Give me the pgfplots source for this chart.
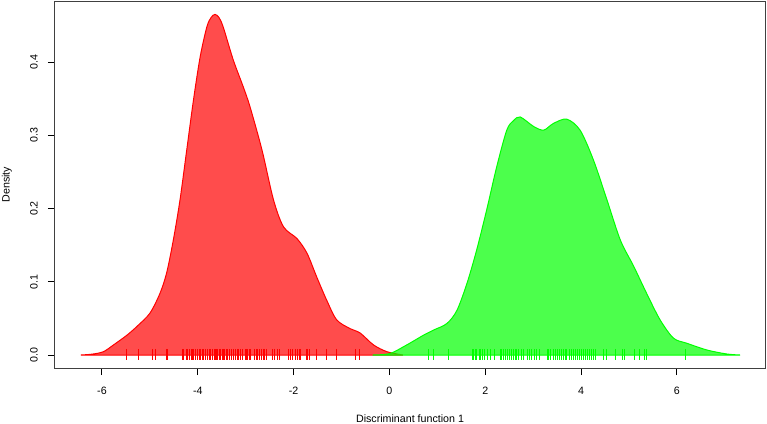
\documentclass[border=0pt]{standalone}
\usepackage{pgfplots}
\pgfplotsset{compat=1.18}
\usepackage{fontspec}
\setmainfont{Liberation Sans}
\definecolor{rfill}{RGB}{255,0,0}
\definecolor{gfill}{RGB}{0,255,0}
\begin{document}
\begin{tikzpicture}[font=\fontsize{8}{9.6}\selectfont]
\begin{axis}[name=ax, scale only axis, width=532.5pt, height=275.25pt,
  xmin=-6.98, xmax=7.84, ymin=-0.01775, ymax=0.4833,
  axis line style={black!75, line width=0.75pt},
  tick pos=left, tick align=outside, major tick length=5.25pt,
  tick style={black, line width=0.75pt},
  xtick={-6,-4,-2,0,2,4,6}, xticklabels={-6,-4,-2,0,2,4,6},
  ytick={0,0.1,0.2,0.3,0.4}, yticklabels={0.0,0.1,0.2,0.3,0.4},
  xticklabel style={anchor=base, yshift=-14.45pt},
  yticklabel style={xshift=-7.75pt, rotate=90, anchor=base},
]
% red density
\addplot[smooth, tension=0.5, draw=red, line width=0.75pt, fill=rfill, fill opacity=0.7, draw opacity=1] coordinates {
(-6.44,0) (-6.2,0.0012) (-5.97,0.0045) (-5.76,0.0137) (-5.48,0.027) (-5.27,0.039) (-5.0,0.057)
(-4.79,0.084) (-4.65,0.112) (-4.51,0.157) (-4.37,0.212) (-4.23,0.280) (-4.09,0.348)
(-3.95,0.407) (-3.81,0.448) (-3.72,0.461) (-3.64,0.465) (-3.56,0.461) (-3.47,0.448) (-3.26,0.403)
(-3.05,0.366) (-2.91,0.339) (-2.66,0.280) (-2.42,0.212) (-2.21,0.175) (-1.93,0.159)
(-1.72,0.139) (-1.52,0.107) (-1.31,0.075) (-1.10,0.048) (-0.82,0.036) (-0.61,0.030)
(-0.33,0.0137) (-0.05,0.0045) (0.28,0)
} \closedcycle;
% green density
\addplot[smooth, tension=0.5, draw=green, line width=0.75pt, fill=gfill, fill opacity=0.7, draw opacity=1] coordinates {
(-0.35,0) (0.01,0.002) (0.36,0.0137) (0.71,0.027) (0.92,0.034) (1.20,0.043) (1.41,0.061)
(1.62,0.098) (1.82,0.143) (2.03,0.198) (2.24,0.257) (2.45,0.307) (2.59,0.320) (2.73,0.325)
(3.01,0.312) (3.22,0.307) (3.42,0.316) (3.70,0.322) (3.98,0.307) (4.26,0.266) (4.54,0.212)
(4.82,0.157) (5.10,0.121) (5.37,0.084) (5.65,0.048) (5.93,0.023) (6.21,0.016) (6.63,0.0068)
(7.04,0.0014) (7.32,0)
} \closedcycle;
% red rug
\addplot[only marks, mark=|, mark size=4.125pt, red, mark options={line width=0.75pt}] coordinates {
(-5.48,0.0007) (-5.24,0.0007) (-4.94,0.0007) (-4.88,0.0007) (-4.65,0.0007) (-4.63,0.0007)
(-4.31,0.0007) (-4.29,0.0007) (-4.24,0.0007) (-4.22,0.0007) (-4.18,0.0007) (-4.13,0.0007)
(-4.10,0.0007) (-4.08,0.0007) (-4.04,0.0007) (-4.01,0.0007) (-3.97,0.0007) (-3.94,0.0007)
(-3.90,0.0007) (-3.87,0.0007) (-3.83,0.0007) (-3.80,0.0007) (-3.76,0.0007) (-3.73,0.0007)
(-3.69,0.0007) (-3.66,0.0007) (-3.63,0.0007) (-3.60,0.0007) (-3.58,0.0007) (-3.55,0.0007)
(-3.52,0.0007) (-3.49,0.0007) (-3.47,0.0007) (-3.44,0.0007) (-3.41,0.0007) (-3.38,0.0007)
(-3.34,0.0007) (-3.30,0.0007) (-3.26,0.0007) (-3.22,0.0007) (-3.17,0.0007) (-3.14,0.0007)
(-3.10,0.0007) (-3.06,0.0007) (-3.01,0.0007) (-2.99,0.0007) (-2.96,0.0007) (-2.92,0.0007)
(-2.89,0.0007) (-2.82,0.0007) (-2.78,0.0007) (-2.76,0.0007) (-2.71,0.0007) (-2.68,0.0007)
(-2.66,0.0007) (-2.63,0.0007) (-2.60,0.0007) (-2.57,0.0007) (-2.43,0.0007) (-2.39,0.0007)
(-2.34,0.0007) (-2.30,0.0007) (-2.10,0.0007) (-2.06,0.0007) (-2.02,0.0007) (-1.97,0.0007)
(-1.95,0.0007) (-1.91,0.0007) (-1.88,0.0007) (-1.85,0.0007) (-1.74,0.0007) (-1.70,0.0007)
(-1.67,0.0007) (-1.52,0.0007) (-1.31,0.0007) (-1.10,0.0007) (-0.71,0.0007) (-0.63,0.0007)
};
% green rug
\addplot[only marks, mark=|, mark size=4.125pt, green, mark options={line width=0.75pt}] coordinates {
(0.82,0.0007) (0.92,0.0007) (1.23,0.0007) (1.73,0.0007) (1.75,0.0007) (1.79,0.0007)
(1.82,0.0007) (1.88,0.0007) (1.91,0.0007) (1.94,0.0007) (1.98,0.0007) (2.05,0.0007)
(2.10,0.0007) (2.19,0.0007) (2.31,0.0007) (2.35,0.0007) (2.38,0.0007) (2.42,0.0007)
(2.46,0.0007) (2.51,0.0007) (2.55,0.0007) (2.59,0.0007) (2.63,0.0007) (2.66,0.0007)
(2.70,0.0007) (2.76,0.0007) (2.80,0.0007) (2.88,0.0007) (2.92,0.0007) (2.96,0.0007)
(3.02,0.0007) (3.06,0.0007) (3.13,0.0007) (3.29,0.0007) (3.33,0.0007) (3.37,0.0007)
(3.42,0.0007) (3.47,0.0007) (3.51,0.0007) (3.55,0.0007) (3.59,0.0007) (3.63,0.0007)
(3.67,0.0007) (3.70,0.0007) (3.75,0.0007) (3.80,0.0007) (3.84,0.0007) (3.88,0.0007)
(3.92,0.0007) (3.97,0.0007) (4.01,0.0007) (4.05,0.0007) (4.09,0.0007) (4.13,0.0007)
(4.18,0.0007) (4.22,0.0007) (4.26,0.0007) (4.30,0.0007) (4.47,0.0007) (4.54,0.0007)
(4.72,0.0007) (4.87,0.0007) (4.91,0.0007) (5.12,0.0007) (5.21,0.0007) (5.33,0.0007)
(5.36,0.0007) (6.17,0.0007)
};
\end{axis}
\node[anchor=base] at ([yshift=-40.5pt]ax.south) {Discriminant function 1};
\node[rotate=90, anchor=base] at ([xshift=-34pt]ax.west) {Density};
\pgfresetboundingbox
\path ([xshift=-41.25pt,yshift=-41.25pt]ax.south west) rectangle ([xshift=1.5pt,yshift=0.75pt]ax.north east);
\end{tikzpicture}
\end{document}
